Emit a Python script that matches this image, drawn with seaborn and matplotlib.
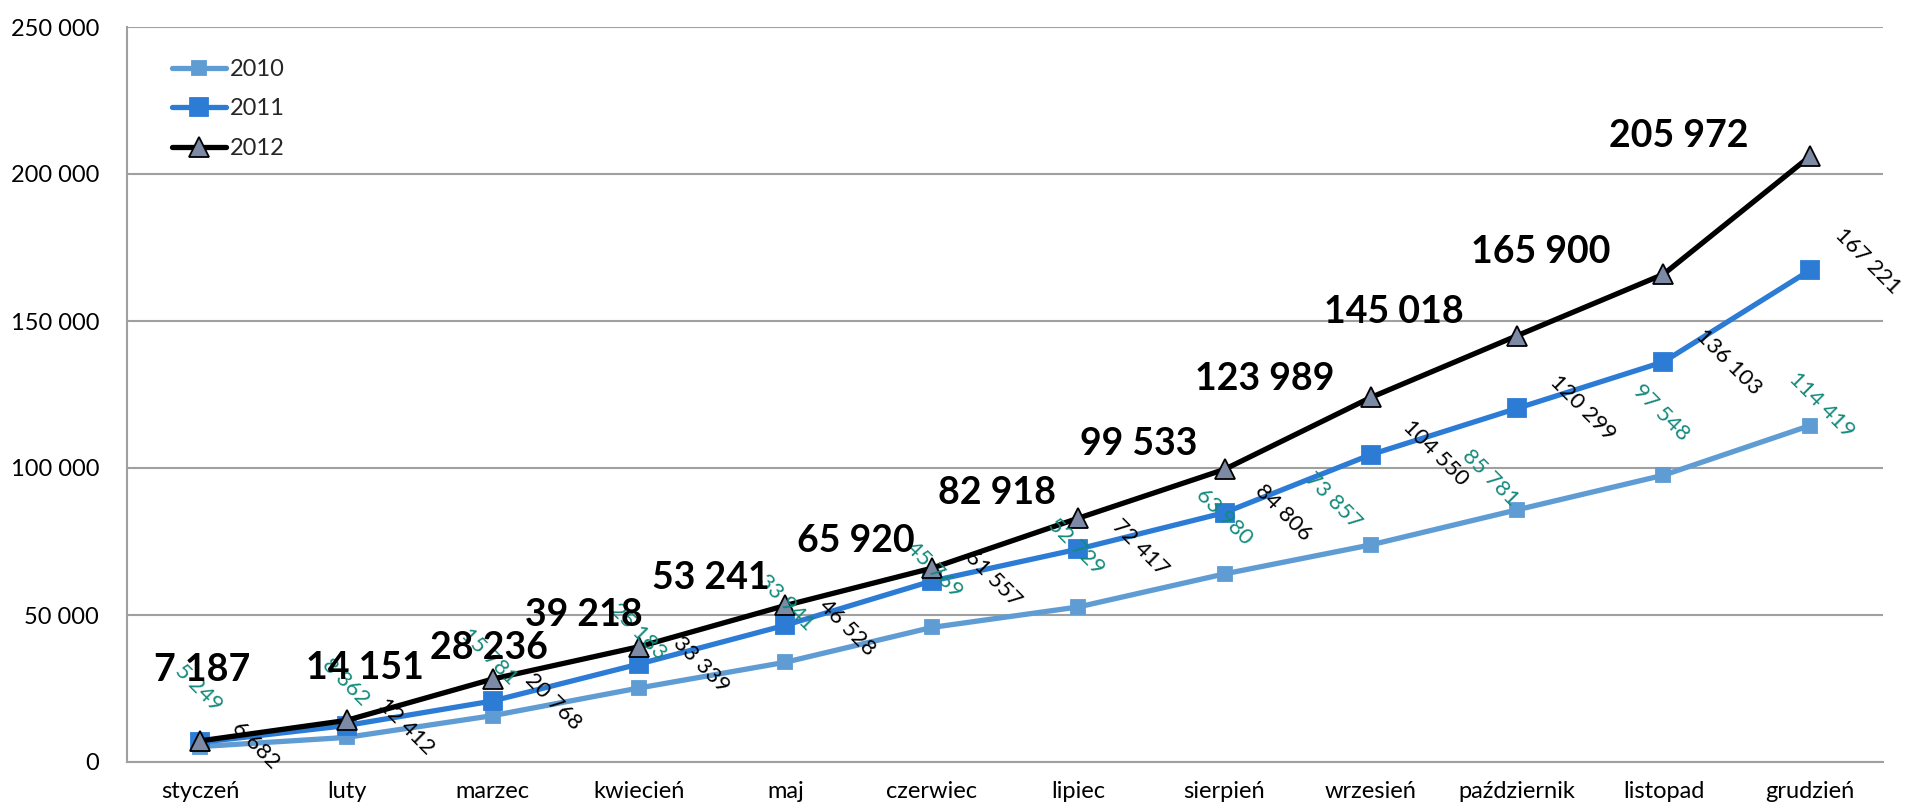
import matplotlib
matplotlib.use("Agg")
import matplotlib.pyplot as plt
import seaborn as sns
import numpy as np
import pandas as pd
from matplotlib.ticker import FuncFormatter, FixedLocator

months = ["styczeń", "luty", "marzec", "kwiecień", "maj", "czerwiec", "lipiec",
          "sierpień", "wrzesień", "październik", "listopad", "grudzień"]
v2010 = [5249, 8362, 15781, 25183, 33941, 45769, 52729, 63980, 73857, 85781, 97548, 114419]
v2011 = [6682, 12412, 20768, 33339, 46528, 61557, 72417, 84806, 104550, 120299, 136103, 167221]
v2012 = [7187, 14151, 28236, 39218, 53241, 65920, 82918, 99533, 123989, 145018, 165900, 205972]
yticks = [0, 50000, 100000, 150000, 200000, 250000]

# label offsets in pixels (dx, dy up) relative to the data point
off2010 = [(-2, 59), (-1, 55), (-4, 59), (-1, 56), (1, 60), (2, 58), (-2, 60), (0, 57),
           (-38, 44), (-27, 32), (-2, 63), (12, 21)]
off2011 = [(55, -3), (60, -1), (60, -1), (62, -1), (62, -2), (61, 2), (62, 1), (59, 0),
           (65, 2), (65, 0), (65, 0), (58, 9)]
off2012 = [(2, 71), (18, 52), (-4, 31), (-55, 32), (-75, 27), (-76, 27), (-81, 25), (-86, 25),
           (-106, 18), (-123, 24), (-123, 22), (-131, 20)]

c2010 = "#5F9CD3"
c2011 = "#2C7CD6"
c2012 = "#000000"
tri_face = "#7D8AA6"
teal = "#138A7C"
grid_c = "#A0A0A0"

sns.set_theme(style="white")
plt.rcParams["font.family"] = ["Lato", "DejaVu Sans"]

fig = plt.figure(figsize=(19.05, 8.10), dpi=100)
ax = fig.add_axes([127 / 1905, 48 / 810, 1756 / 1905, 735 / 810])

x = np.arange(len(months))
df = pd.DataFrame({"x": np.tile(x, 3),
                   "v": v2010 + v2011 + v2012,
                   "rok": ["2010"] * 12 + ["2011"] * 12 + ["2012"] * 12})

for yr, col, mk, ms, mfc, mec in [("2010", c2010, "s", 9.5, c2010, c2010),
                                  ("2011", c2011, "s", 13, c2011, c2011),
                                  ("2012", c2012, "^", 14, tri_face, "#000000")]:
    sub = df[df["rok"] == yr]
    sns.lineplot(data=sub, x="x", y="v", ax=ax, color=col, linewidth=3.8,
                 marker=mk, markersize=ms, markerfacecolor=mfc, markeredgecolor=mec,
                 markeredgewidth=1.3, label=yr, zorder=3 if yr != "2012" else 4)

# data labels
for i in range(12):
    ax.annotate(f"{v2010[i]:,}".replace(",", " "), (x[i], v2010[i]),
                xytext=off2010[i], textcoords="offset pixels", rotation=-45,
                ha="center", va="center", fontsize=16, color=teal, zorder=5)
    ax.annotate(f"{v2011[i]:,}".replace(",", " "), (x[i], v2011[i]),
                xytext=off2011[i], textcoords="offset pixels", rotation=-45,
                ha="center", va="center", fontsize=16, color="black", zorder=5)
    ax.annotate(f"{v2012[i]:,}".replace(",", " "), (x[i], v2012[i]),
                xytext=off2012[i], textcoords="offset pixels",
                ha="center", va="center", fontsize=27, fontweight="bold",
                color="black", zorder=6)

ax.set_xlim(-0.5, 11.5)
ax.set_ylim(0, 250000)
ax.set_xticks(x)
ax.set_xticklabels(months)
ax.xaxis.set_minor_locator(FixedLocator(np.arange(-0.5, 12.0, 1.0)))
ax.set_yticks(yticks)
ax.yaxis.set_major_formatter(FuncFormatter(lambda v, p: f"{int(v):,}".replace(",", " ")))
ax.set_xlabel("")
ax.set_ylabel("")

ax.tick_params(axis="x", which="major", length=0, pad=14, labelsize=17, labelcolor="black")
ax.tick_params(axis="x", which="minor", length=8, width=1.5, color=grid_c, direction="out")
ax.tick_params(axis="y", which="major", length=8, width=1.5, color=grid_c, direction="out",
               pad=12, labelsize=17, labelcolor="black")
ax.grid(axis="y", color=grid_c, linewidth=1.5)
ax.set_axisbelow(True)
for s in ["top", "right"]:
    ax.spines[s].set_visible(False)
for s in ["left", "bottom"]:
    ax.spines[s].set_color(grid_c)
    ax.spines[s].set_linewidth(1.5)

leg = ax.legend(loc="upper left", bbox_to_anchor=((172 - 127) / 1756, 1 - (59 - 27) / 735),
                frameon=False, fontsize=17, handlelength=2.3, handletextpad=0.15,
                labelspacing=0.78, borderpad=0, borderaxespad=0)

fig.savefig("out.png", dpi=100)
